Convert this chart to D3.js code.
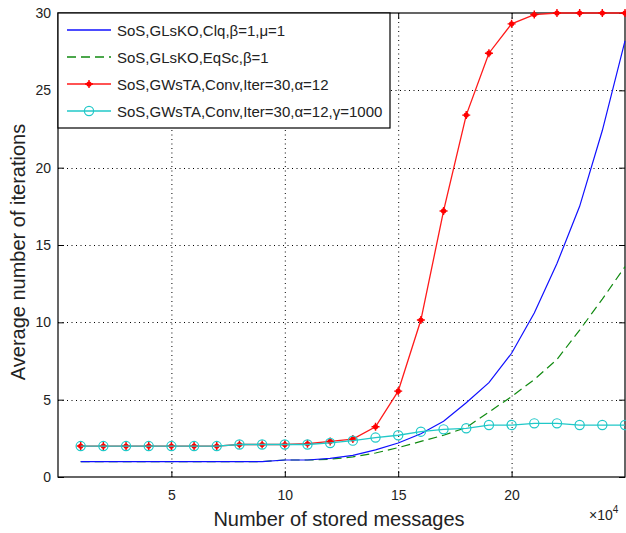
<!DOCTYPE html>
<html>
<head>
<meta charset="utf-8">
<script src="https://cdn.jsdelivr.net/npm/d3@7"></script>
<style>
  body { margin: 0; background: #fff; }
  svg { font-family: "Liberation Sans", Arial, sans-serif; }
  .grid line { stroke: #000; stroke-dasharray: 1 3.5; stroke-width: 1; }
  .tick text { font-size: 14px; fill: #222; }
</style>
</head>
<body>
<svg width="626" height="533"></svg>
<script>
// Data (x in units of 10^4 stored messages)
var xValues = [1, 2, 3, 4, 5, 6, 7, 8, 9, 10, 11, 12, 13, 14, 15, 16, 17, 18, 19, 20, 21, 22, 23, 24, 25];
var clqValues = [1, 1, 1, 1, 1, 1, 1, 1, 1, 1.1, 1.1, 1.2, 1.4, 1.75, 2.2, 2.8, 3.6, 4.8, 6.1, 8.0, 10.6, 13.8, 17.5, 22.4, 28.2];
var eqscValues = [1, 1, 1, 1, 1, 1, 1, 1, 1, 1.1, 1.1, 1.15, 1.3, 1.55, 1.9, 2.3, 2.7, 3.2, 4.2, 5.2, 6.3, 7.6, 9.5, 11.5, 13.6];
var convValues = [2, 2, 2, 2, 2, 2, 2, 2.1, 2.1, 2.1, 2.15, 2.3, 2.45, 3.25, 5.55, 10.15, 17.2, 23.4, 27.4, 29.3, 29.9, 30, 30, 30, 30];
var gammaValues = [2, 2, 2, 2, 2, 2, 2, 2.1, 2.1, 2.1, 2.1, 2.2, 2.35, 2.55, 2.7, 2.93, 3.08, 3.15, 3.36, 3.36, 3.47, 3.47, 3.36, 3.36, 3.36];
var xTicks = [5, 10, 15, 20];
var yTicks = [0, 5, 10, 15, 20, 25, 30];
var seriesNames = [
  "SoS,GLsKO,Clq,\u03b2=1,\u03bc=1",
  "SoS,GLsKO,EqSc,\u03b2=1",
  "SoS,GWsTA,Conv,Iter=30,\u03b1=12",
  "SoS,GWsTA,Conv,Iter=30,\u03b1=12,\u03b3=1000"
];

var svg = d3.select("svg");
var pLeft = 58, pRight = 625, pTop = 13, pBottom = 477;

var x = d3.scaleLinear().domain([0, 25]).range([pLeft, pRight]);
var y = d3.scaleLinear().domain([0, 30]).range([pBottom, pTop]);

// Grid
var grid = svg.append("g").attr("class", "grid");
grid.selectAll("line.vx").data(xTicks).enter().append("line")
  .attr("x1", d => x(d) + 0.5).attr("x2", d => x(d) + 0.5)
  .attr("y1", pTop).attr("y2", pBottom);
grid.selectAll("line.hy").data(yTicks.slice(1, -1)).enter().append("line")
  .attr("y1", d => Math.round(y(d)) + 0.5).attr("y2", d => Math.round(y(d)) + 0.5)
  .attr("x1", pLeft).attr("x2", pRight);

// Axes
svg.append("g").attr("transform", "translate(0," + pBottom + ")")
  .call(d3.axisBottom(x).tickValues(xTicks).tickSize(-6).tickPadding(13));
svg.append("g").attr("transform", "translate(" + pLeft + ",0)")
  .call(d3.axisLeft(y).tickValues(yTicks).tickSize(-6).tickPadding(7));
svg.append("g").attr("transform", "translate(0," + pTop + ")")
  .call(d3.axisTop(x).tickValues(xTicks).tickSize(-6).tickFormat(""));
svg.append("g").attr("transform", "translate(" + pRight + ",0)")
  .call(d3.axisRight(y).tickValues(yTicks).tickSize(-6).tickFormat(""));
svg.selectAll(".domain").remove();
svg.selectAll(".tick line").attr("stroke", "#000");
svg.append("rect").attr("x", pLeft).attr("y", pTop)
  .attr("width", pRight - pLeft).attr("height", pBottom - pTop)
  .attr("fill", "none").attr("stroke", "#000").attr("stroke-width", 1.2);

var line = d3.line().x(d => x(d[0])).y(d => y(d[1]));
function pairs(vals) { return xValues.map((v, i) => [v, vals[i]]); }

// Series
svg.append("path").datum(pairs(eqscValues)).attr("d", line)
  .attr("fill", "none").attr("stroke", "#108a10").attr("stroke-width", 1.2)
  .attr("stroke-dasharray", "9 5");
svg.append("path").datum(pairs(clqValues)).attr("d", line)
  .attr("fill", "none").attr("stroke", "#1010ff").attr("stroke-width", 1.2);
svg.append("path").datum(pairs(convValues)).attr("d", line)
  .attr("fill", "none").attr("stroke", "#ff1a1a").attr("stroke-width", 1.3);

function redMarker(g, cx, cy) {
  g.append("circle").attr("cx", cx).attr("cy", cy).attr("r", 2.6).attr("fill", "#ff0000");
  g.append("path").attr("d", "M" + (cx - 4) + "," + cy + "H" + (cx + 4) + "M" + cx + "," + (cy - 4) + "V" + (cy + 4))
    .attr("stroke", "#ff0000").attr("stroke-width", 1.4);
}
var redG = svg.append("g");
pairs(convValues).forEach(p => redMarker(redG, x(p[0]), y(p[1])));

svg.append("path").datum(pairs(gammaValues)).attr("d", line)
  .attr("fill", "none").attr("stroke", "#20c8c8").attr("stroke-width", 1.3);
svg.append("g").selectAll("circle").data(pairs(gammaValues)).enter().append("circle")
  .attr("cx", d => x(d[0])).attr("cy", d => y(d[1])).attr("r", 4.6)
  .attr("fill", "none").attr("stroke", "#20c8c8").attr("stroke-width", 1.2);

// Legend
var lg = svg.append("g");
lg.append("rect").attr("x", pLeft).attr("y", pTop).attr("width", 332).attr("height", 115)
  .attr("fill", "#fff").attr("stroke", "#000").attr("stroke-width", 1.2);
var legY = [30, 57, 84, 111];
var legStyles = [
  { c: "#1010ff", dash: null },
  { c: "#108a10", dash: "9 5" },
  { c: "#ff1a1a", dash: null },
  { c: "#20c8c8", dash: null }
];
seriesNames.forEach(function (name, i) {
  lg.append("line").attr("x1", 67).attr("x2", 111).attr("y1", legY[i]).attr("y2", legY[i])
    .attr("stroke", legStyles[i].c).attr("stroke-width", 1.3)
    .attr("stroke-dasharray", legStyles[i].dash);
  lg.append("text").attr("x", 117).attr("y", legY[i] + 5.5).attr("font-size", 15)
    .attr("fill", "#222").text(name);
});
redMarker(lg, 89, legY[2]);
lg.append("circle").attr("cx", 89).attr("cy", legY[3]).attr("r", 4.6)
  .attr("fill", "none").attr("stroke", "#20c8c8").attr("stroke-width", 1.2);

// Axis labels
svg.append("text").attr("x", 339).attr("y", 526)
  .attr("text-anchor", "middle").attr("font-size", 20).attr("fill", "#222")
  .text("Number of stored messages");
svg.append("text").attr("transform", "translate(25,252) rotate(-90)")
  .attr("text-anchor", "middle").attr("font-size", 20).attr("fill", "#222")
  .text("Average number of iterations");
var ex = svg.append("text").attr("x", 589).attr("y", 520).attr("font-size", 14).attr("fill", "#222");
ex.append("tspan").text("\u00d710");
ex.append("tspan").attr("dy", -7).attr("font-size", 10).text("4");
</script>
</body>
</html>
